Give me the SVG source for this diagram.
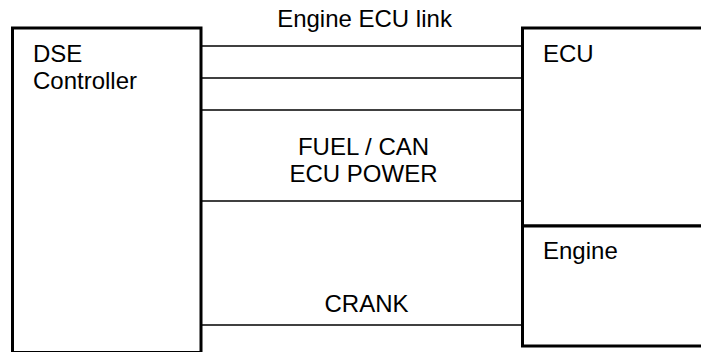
<svg xmlns="http://www.w3.org/2000/svg" width="701" height="352" viewBox="0 0 701 352">
  <style>
    .box { fill: #ffffff; stroke: #000000; stroke-width: 3; }
    .wire { stroke: #000000; stroke-width: 1.5; fill: none; }
    .t { font-family: "Liberation Sans", Arial, sans-serif; font-size: 24px; fill: #000000; }
    .c { text-anchor: middle; }
  </style>
  <rect width="701" height="352" fill="#ffffff"/>
  <g id="connectors">
    <line class="wire" x1="201" y1="46" x2="522" y2="46"/>
    <line class="wire" x1="201" y1="78" x2="522" y2="78"/>
    <line class="wire" x1="201" y1="110" x2="522" y2="110"/>
    <line class="wire" x1="201" y1="201" x2="522" y2="201"/>
    <line class="wire" x1="201" y1="325" x2="522" y2="325"/>
    <text class="t c" x="364.5" y="26.5">Engine ECU link</text>
    <text class="t c" x="363.5" y="154.5">FUEL / CAN</text>
    <text class="t c" x="363.5" y="181.5">ECU POWER</text>
    <text class="t c" x="366.5" y="311.5">CRANK</text>
  </g>
  <g id="dse">
    <rect class="box" x="12.5" y="28" width="188.5" height="324.5"/>
    <text class="t" x="33" y="61.5">DSE</text>
    <text class="t" x="33" y="88.5">Controller</text>
  </g>
  <g id="ecu">
    <rect class="box" x="522.5" y="28" width="200" height="198"/>
    <text class="t" x="543" y="61.5">ECU</text>
  </g>
  <g id="engine">
    <rect class="box" x="522.5" y="226" width="200" height="120"/>
    <text class="t" x="543" y="258.5">Engine</text>
  </g>
</svg>
